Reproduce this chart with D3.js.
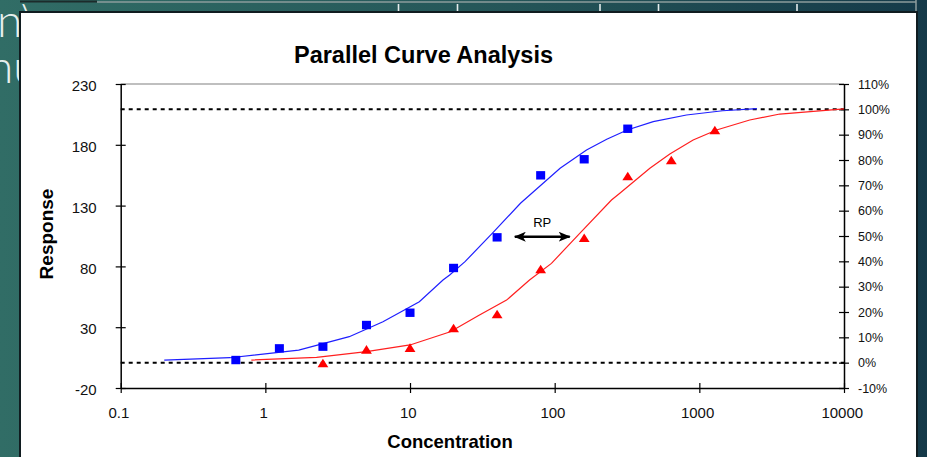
<!DOCTYPE html>
<html>
<head>
<meta charset="utf-8">
<script src="https://cdn.jsdelivr.net/npm/d3@7"></script>
<style>
body { margin: 0; background: #1d4a52; overflow: hidden; }
svg { display: block; font-family: "Liberation Sans", Arial, sans-serif; }
</style>
</head>
<body>
<svg id="chart" width="927" height="457"></svg>
<script>
// standard (blue squares) and test sample (red triangles)
const stdConc = [0.625, 1.25, 2.5, 5, 10, 20, 40, 80, 160, 320];
const stdResp = [3, 12.6, 14, 31.8, 41.9, 78.7, 103.9, 154.9, 168.1, 193.2];
const testConc = [2.5, 5, 10, 20, 40, 80, 160, 320, 640, 1280];
const testResp = [0.5, 11.8, 13.2, 29.3, 40.9, 77.9, 103.6, 154.3, 167.5, 192.2];

// fitted curves
const stdFitConc = [0.2, 0.57, 1.7, 3.8, 6.5, 11.6, 16.9, 18.8, 24, 37, 58, 109, 166, 229, 317, 480, 815, 1450, 2500];
const stdFitResp = [3.0, 4.9, 11.2, 22.2, 34.5, 51.0, 68.8, 72.9, 83.9, 107.2, 131.9, 160.7, 175.7, 184.5, 192.2, 199.0, 204.5, 208.0, 209.7];
const testFitConc = [0.8, 2.26, 5, 10, 19, 30, 46.5, 67, 95, 149, 247, 282, 455, 625, 906, 1315, 2230, 3600, 10000];
const testFitResp = [3.0, 5.2, 9.9, 15.4, 26.3, 39.8, 52.3, 68.8, 82.5, 107.2, 134.6, 140.1, 160.7, 172.4, 184.0, 192.2, 200.4, 205.3, 209.6];

const xTicks = [0.1, 1, 10, 100, 1000, 10000];
const yTicks = [-20, 30, 80, 130, 180, 230];
const pctTicks = [-0.1, 0, 0.1, 0.2, 0.3, 0.4, 0.5, 0.6, 0.7, 0.8, 0.9, 1, 1.1];
const refLines = [0, 1]; // 0% and 100% asymptotes
const rpConc = [53, 127];
const rpResp = 104.4;

const svg = d3.select("#chart");

// ---- slide background ----
const defs = svg.append("defs");
const grad = defs.append("linearGradient").attr("id", "bg").attr("x1", "0%").attr("x2", "100%");
grad.append("stop").attr("offset", "0%").attr("stop-color", "#316d66");
grad.append("stop").attr("offset", "55%").attr("stop-color", "#245558");
grad.append("stop").attr("offset", "100%").attr("stop-color", "#153a49");
svg.append("rect").attr("width", 927).attr("height", 457).attr("fill", "url(#bg)");

// letters of the slide text peeking out behind the chart
svg.append("text").attr("x", -3).attr("y", 37).attr("font-size", 46).attr("font-weight", 300)
	.attr("font-family", "Lato, 'Open Sans', sans-serif").attr("fill", "#e6efed").text("n\\");
svg.append("text").attr("x", -12).attr("y", 83).attr("font-size", 46).attr("font-weight", 300)
	.attr("font-family", "Lato, 'Open Sans', sans-serif").attr("fill", "#e6efed").text("nu");

// table edge on top
svg.append("line").attr("x1", 20).attr("x2", 97).attr("y1", 1.5).attr("y2", 1.5).attr("stroke", "#1c2b2b").attr("stroke-width", 2);
svg.append("line").attr("x1", 97).attr("x2", 916).attr("y1", 2).attr("y2", 2).attr("stroke", "#8d9c9c").attr("stroke-width", 1.5);
svg.append("line").attr("x1", 916).attr("x2", 916).attr("y1", 0).attr("y2", 12).attr("stroke", "#8d9c9c").attr("stroke-width", 1.5);
[398.5, 457.5, 600, 658.5, 797].forEach((px) => {
	svg.append("line").attr("x1", px).attr("x2", px).attr("y1", 4).attr("y2", 11)
		.attr("stroke", "#e4ecec").attr("stroke-width", 1.6);
});

// chart panel
svg.append("rect").attr("x", 20).attr("y", 12).attr("width", 897).attr("height", 460)
	.attr("fill", "#fff").attr("stroke", "#101c20").attr("stroke-width", 2);

// ---- chart ----
const margin = { top: 84, left: 120.7 };
const innerWidth = 723.3;
const innerHeight = 304;

const xScale = d3.scaleLog().domain([0.1, 10000]).range([0, innerWidth]);
const yScale = d3.scaleLinear().domain([-20, 230]).range([innerHeight, 0]);
const pctScale = d3.scaleLinear().domain([-0.1, 1.1]).range([innerHeight, 0]);

// plain hyphen for negatives, like the original
const hyphen = (f) => (d) => f(d).replace("\u2212", "-");

svg.append("text").attr("x", 423.5).attr("y", 62.5).attr("text-anchor", "middle")
	.attr("font-size", 23.5).attr("font-weight", "bold").text("Parallel Curve Analysis");

const g = svg.append("g").attr("transform", `translate(${margin.left}, ${margin.top})`);

// top frame line
g.append("line").attr("x1", 0).attr("x2", innerWidth).attr("y1", 0).attr("y2", 0)
	.attr("stroke", "#808080").attr("stroke-width", 1.2);

// dashed reference lines
g.selectAll(".ref").data(refLines).enter().append("line").classed("ref", true)
	.attr("x1", 0).attr("x2", innerWidth)
	.attr("y1", (d) => pctScale(d)).attr("y2", (d) => pctScale(d))
	.attr("stroke", "#000").attr("stroke-width", 2).attr("stroke-dasharray", "4,4");

function styleAxis(sel, fontSize) {
	sel.attr("font-family", null).attr("font-size", fontSize);
	sel.select(".domain").attr("stroke", "#000").attr("stroke-width", 1.5);
	sel.selectAll(".tick line").attr("stroke", "#000").attr("stroke-width", 1.2);
	sel.selectAll(".tick text").attr("fill", "#111");
}

const xAxis = g.append("g").attr("transform", `translate(0, ${innerHeight})`)
	.call(d3.axisBottom(xScale).tickValues(xTicks).tickFormat((d) => String(d)).tickSize(5).tickSizeOuter(0).tickPadding(14));
styleAxis(xAxis, 15);
xAxis.selectAll(".tick line").attr("y1", -5);
xAxis.selectAll(".tick text").attr("dx", "-0.15em");

const yAxis = g.append("g")
	.call(d3.axisLeft(yScale).tickValues(yTicks).tickFormat(hyphen(d3.format("d"))).tickSize(5).tickSizeOuter(0).tickPadding(19));
styleAxis(yAxis, 15);
yAxis.selectAll(".tick line").attr("x1", 5);
yAxis.selectAll(".tick text").attr("dy", "0.45em");

const pAxis = g.append("g").attr("transform", `translate(${innerWidth}, 0)`)
	.call(d3.axisRight(pctScale).tickValues(pctTicks).tickFormat(hyphen(d3.format(".0%"))).tickSize(5).tickSizeOuter(0).tickPadding(9));
styleAxis(pAxis, 12.5);
pAxis.selectAll(".tick line").attr("x1", -5);

// axis titles
svg.append("text").attr("x", 450).attr("y", 448).attr("text-anchor", "middle")
	.attr("font-size", 18.5).attr("font-weight", "bold").text("Concentration");
svg.append("text").attr("transform", "translate(53, 234) rotate(-90)").attr("text-anchor", "middle")
	.attr("font-size", 19).attr("font-weight", "bold").text("Response");

// fitted curves
const line = d3.line().x((d) => xScale(d[0])).y((d) => yScale(d[1]));
g.append("path").datum(d3.zip(stdFitConc, stdFitResp)).attr("fill", "none")
	.attr("stroke", "#1f1fff").attr("stroke-width", 1.2).attr("d", line);
g.append("path").datum(d3.zip(testFitConc, testFitResp)).attr("fill", "none")
	.attr("stroke", "#ff1f1f").attr("stroke-width", 1.2).attr("d", line);

// data points
g.selectAll(".sq").data(d3.zip(stdConc, stdResp)).enter().append("rect").classed("sq", true)
	.attr("x", (d) => xScale(d[0]) - 4.5).attr("y", (d) => yScale(d[1]) - 4.2)
	.attr("width", 9).attr("height", 8.4).attr("fill", "#0000ff");
g.selectAll(".tri").data(d3.zip(testConc, testResp)).enter().append("path").classed("tri", true)
	.attr("transform", (d) => `translate(${xScale(d[0])}, ${yScale(d[1])})`)
	.attr("d", "M0,-4.3L5.4,4.3L-5.4,4.3Z").attr("fill", "#ff0000");

// RP arrow
defs.append("marker").attr("id", "head").attr("viewBox", "0 0 12 10").attr("refX", 11).attr("refY", 5)
	.attr("markerWidth", 12).attr("markerHeight", 10).attr("markerUnits", "userSpaceOnUse")
	.attr("orient", "auto-start-reverse")
	.append("path").attr("d", "M0,0L12,5L0,10L3,5Z").attr("fill", "#000");
g.append("line").attr("x1", xScale(rpConc[0])).attr("x2", xScale(rpConc[1]))
	.attr("y1", yScale(rpResp)).attr("y2", yScale(rpResp))
	.attr("stroke", "#000").attr("stroke-width", 2.6)
	.attr("marker-start", "url(#head)").attr("marker-end", "url(#head)");
g.append("text").attr("x", (xScale(rpConc[0]) + xScale(rpConc[1])) / 2).attr("y", yScale(rpResp) - 10)
	.attr("text-anchor", "middle").attr("font-size", 13).text("RP");
</script>
</body>
</html>
